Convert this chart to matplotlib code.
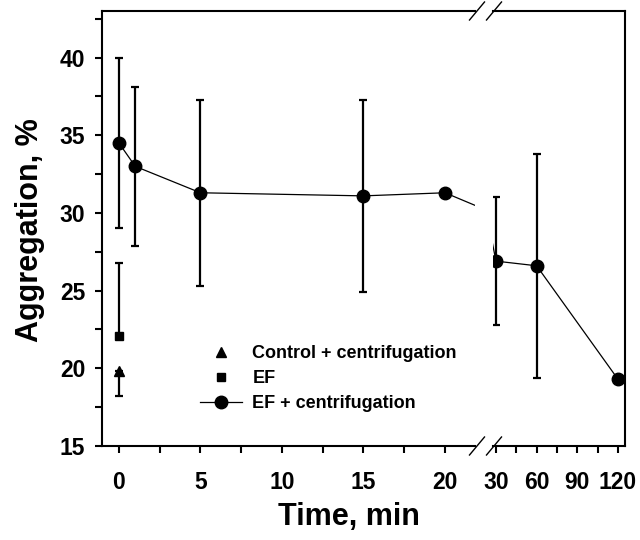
import matplotlib
matplotlib.use('Agg')
import matplotlib.pyplot as plt
from matplotlib.lines import Line2D
import numpy as np

# Data
t_cent     = [0, 1, 5, 15, 20, 30, 60, 120]
agg_cent   = [34.5, 33.0, 31.3, 31.1, 31.3, 26.9, 26.6, 19.3]
err_cent   = [5.5, 5.1, 6.0, 6.2, 0.0, 4.1, 7.2, 0.0]

t_ef       = [0]
agg_ef     = [22.1]
err_ef_up  = [4.7]

t_ctrl     = [0]
agg_ctrl   = [19.8]
err_ctrl_dn = [1.6]

xticks_left  = [0, 5, 10, 15, 20]
xticks_right = [30, 60, 90, 120]
yticks       = [15, 20, 25, 30, 35, 40]

params = {'font.family': 'Liberation Sans',
          'font.weight': 'bold',
          'xtick.labelsize': 16.5,
          'ytick.labelsize': 16.5,
          'axes.linewidth': 1.5}
plt.rcParams.update(params)

fig = plt.figure(figsize=(6.4, 5.4), dpi=100)
bot, h = (540 - 446) / 540, (446 - 11) / 540
ax1 = fig.add_axes([102 / 640, bot, 373 / 640, h])
ax2 = fig.add_axes([493 / 640, bot, 132 / 640, h])

for ax in (ax1, ax2):
    ax.errorbar(t_cent, agg_cent, yerr=err_cent, color='k', marker='o', markersize=9,
                linewidth=0.9, elinewidth=1.6, capsize=3, capthick=1.6)
    ax.set_ylim(15, 43)
    ax.tick_params(axis='both', which='both', direction='out', length=5, width=1.5)
    ax.tick_params(axis='x', which='both', pad=13)

ax1.errorbar(t_ef, agg_ef, yerr=[[0], err_ef_up], color='k', marker='s', markersize=6,
             linestyle='none', elinewidth=1.6, capsize=3, capthick=1.6)
ax1.errorbar(t_ctrl, agg_ctrl, yerr=[err_ctrl_dn, [0]], color='k', marker='^', markersize=7.5,
             linestyle='none', elinewidth=1.6, capsize=3, capthick=1.6)

ax1.set_xlim(-1.04, 21.84)
ax2.set_xlim(27.8, 125.2)

ax1.set_xticks(xticks_left)
ax1.set_xticks(np.arange(0, 21, 2.5), minor=True)
ax2.set_xticks(xticks_right)
ax2.set_xticks([45, 75, 105], minor=True)
ax1.set_yticks(yticks)
ax1.set_yticks(np.arange(15, 43, 2.5), minor=True)
ax1.tick_params(axis='y', pad=7)

ax1.spines['right'].set_visible(False)
ax2.spines['left'].set_visible(False)
ax2.set_yticks([])
ax2.tick_params(axis='y', which='both', left=False, labelleft=False)

# break marks
dx, dy = 7.5, 9
for ax, xf in ((ax1, 1.0), (ax2, 0.0)):
    bb = ax.get_position()
    x0 = (bb.x0 + xf * bb.width) * 640 + (2 if xf == 1.0 else 1)
    for yf in (bb.y0, bb.y1):
        y0 = yf * 540
        fig.add_artist(Line2D([(x0 - dx) / 640, (x0 + dx) / 640],
                              [(y0 - dy) / 540, (y0 + dy) / 540],
                              color='k', linewidth=1.0, transform=fig.transFigure))

# legend
handles = [Line2D([], [], color='k', marker='^', markersize=7.5, linestyle='none'),
           Line2D([], [], color='k', marker='s', markersize=6, linestyle='none'),
           Line2D([], [], color='k', marker='o', markersize=9, linewidth=0.9)]
labels = ['Control + centrifugation', 'EF', 'EF + centrifugation']
leg = ax1.legend(handles, labels,
                 loc='upper left', bbox_to_anchor=(200 / 640, (540 - 345) / 540),
                 bbox_transform=fig.transFigure, frameon=False, borderpad=0,
                 borderaxespad=0, handlelength=2.3, handletextpad=0.6,
                 labelspacing=0.45, prop={'size': 13, 'weight': 'bold'})

fig.text(349 / 640, (540 - 517) / 540, 'Time, min', ha='center', va='center',
         fontsize=22, fontweight='bold')
fig.text(30 / 640, (540 - 230) / 540, 'Aggregation, %', ha='center', va='center',
         rotation=90, fontsize=22, fontweight='bold')

plt.savefig('out.png', dpi=100)
